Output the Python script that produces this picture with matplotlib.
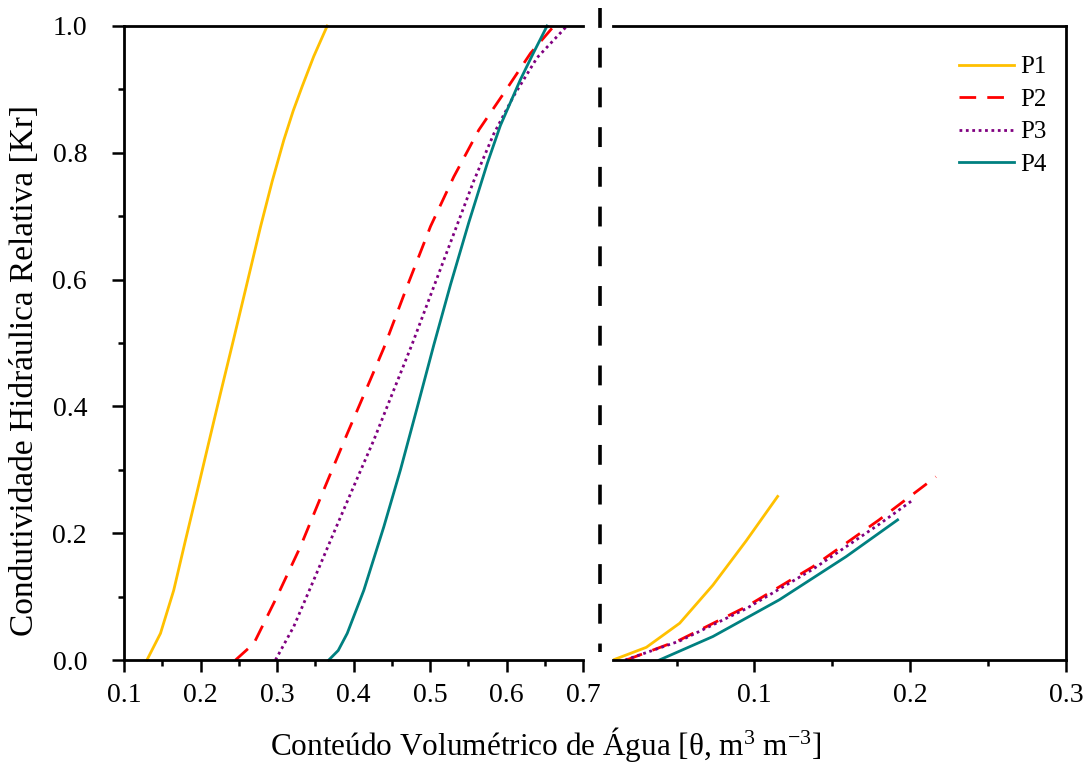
import matplotlib
matplotlib.use("Agg")
import matplotlib.pyplot as plt
from matplotlib.lines import Line2D
from matplotlib.ticker import MultipleLocator

plt.rcParams['font.family'] = ['Liberation Serif', 'DejaVu Serif']
plt.rcParams['mathtext.fontset'] = 'custom'
plt.rcParams['mathtext.rm'] = 'Liberation Serif'
plt.rcParams['mathtext.it'] = 'Liberation Serif:italic'
plt.rcParams['mathtext.bf'] = 'Liberation Serif:bold'

labels = ["P1", "P2", "P3", "P4"]
colors = ["#FFC000", "#FF0000", "#800080", "#008080"]

# Left panel (full range)
p1_x = [0.130, 0.1477, 0.165, 0.180, 0.1957, 0.211, 0.226, 0.2435, 0.260, 0.2784, 0.2937, 0.3089, 0.3211, 0.333, 0.348, 0.3656]
p1_y = [0.0, 0.042, 0.110, 0.187, 0.266, 0.344, 0.420, 0.507, 0.590, 0.683, 0.755, 0.820, 0.866, 0.905, 0.952, 1.0]
p2_x = [0.2458, 0.2697, 0.300, 0.3307, 0.361, 0.3918, 0.422, 0.4396, 0.470, 0.5007, 0.531, 0.5638, 0.5965, 0.6314, 0.662]
p2_y = [0.0, 0.026, 0.100, 0.179, 0.268, 0.357, 0.442, 0.492, 0.589, 0.684, 0.762, 0.836, 0.894, 0.957, 1.0]
p3_x = [0.298, 0.322, 0.348, 0.374, 0.400, 0.4266, 0.4527, 0.4766, 0.505, 0.531, 0.557, 0.5834, 0.6096, 0.640, 0.679]
p3_y = [0.0, 0.053, 0.126, 0.200, 0.273, 0.347, 0.426, 0.498, 0.589, 0.672, 0.755, 0.830, 0.890, 0.950, 1.0]
p4_x = [0.3677, 0.380, 0.3918, 0.4135, 0.4396, 0.4614, 0.483, 0.505, 0.5268, 0.5507, 0.5748, 0.592, 0.618, 0.635, 0.653]
p4_y = [0.0, 0.015, 0.042, 0.110, 0.210, 0.300, 0.397, 0.497, 0.592, 0.690, 0.783, 0.843, 0.915, 0.957, 1.0]

# Right panel (zoomed low range)
r1_x = [0.0092, 0.0306, 0.052, 0.0733, 0.0947, 0.1149]
r1_y = [0.0, 0.020, 0.058, 0.118, 0.188, 0.258]
r2_x = [0.0178, 0.052, 0.0947, 0.1374, 0.180, 0.2165]
r2_y = [0.0, 0.0315, 0.084, 0.147, 0.221, 0.289]
r3_x = [0.017, 0.052, 0.0947, 0.1374, 0.180, 0.2015]
r3_y = [0.0, 0.030, 0.081, 0.143, 0.214, 0.252]
r4_x = [0.039, 0.0733, 0.116, 0.1588, 0.1919]
r4_y = [0.0, 0.037, 0.095, 0.163, 0.221]

styles = [dict(ls='-'), dict(ls=(0, (6, 4))), dict(ls=(0, (1, 1.3))), dict(ls='-')]

W, H = 1083, 764
fig = plt.figure(figsize=(W / 100, H / 100), dpi=100)

axL = fig.add_axes([124 / W, 1 - 660 / H, (583 - 124) / W, (660 - 26) / H])
axR = fig.add_axes([613 / W, 1 - 660 / H, (1066 - 613) / W, (660 - 26) / H])

left_data = [(p1_x, p1_y), (p2_x, p2_y), (p3_x, p3_y), (p4_x, p4_y)]
right_data = [(r1_x, r1_y), (r2_x, r2_y), (r3_x, r3_y), (r4_x, r4_y)]

for (x, y), c, st, lab in zip(left_data, colors, styles, labels):
    axL.plot(x, y, color=c, lw=2.0, label=lab, clip_on=False,
             solid_joinstyle='round', **st)
for (x, y), c, st, lab in zip(right_data, colors, styles, labels):
    axR.plot(x, y, color=c, lw=2.0, label=lab, solid_joinstyle='round', **st)

axL.set_xlim(0.1, 0.7)
axL.set_ylim(0.0, 1.0)
axR.set_xlim(0.0092, 0.3)
axR.set_ylim(0.0, 1.0)

for ax in (axL, axR):
    for s in ax.spines.values():
        s.set_linewidth(2.0)
    ax.tick_params(which='major', direction='out', length=8.6, width=1.8, labelsize=20)
    ax.tick_params(which='minor', direction='out', length=4.3, width=1.8)

axL.spines['right'].set_visible(False)
axL.xaxis.set_major_locator(MultipleLocator(0.1))
axL.xaxis.set_minor_locator(MultipleLocator(0.05))
axL.yaxis.set_major_locator(MultipleLocator(0.2))
axL.yaxis.set_minor_locator(MultipleLocator(0.1))
axL.xaxis.set_major_formatter(plt.FuncFormatter(lambda v, p: f"{v:.1f}"))
axL.yaxis.set_major_formatter(plt.FuncFormatter(lambda v, p: f"{v:.1f}"))
axL.tick_params(axis='y', pad=18)
axL.tick_params(axis='x', pad=8)

axR.spines['left'].set_visible(False)
axR.set_yticks([])
axR.xaxis.set_major_locator(MultipleLocator(0.1))
axR.xaxis.set_minor_locator(MultipleLocator(0.05))
axR.xaxis.set_major_formatter(plt.FuncFormatter(lambda v, p: f"{v:.1f}"))
axR.tick_params(axis='x', pad=8)

leg = axR.legend(loc='upper right', bbox_to_anchor=(0.957, 0.953), frameon=False,
                 borderaxespad=0, borderpad=0,
                 fontsize=18, handlelength=2.2, handletextpad=0.25, labelspacing=0.40)

# separator between panels
fig.add_artist(Line2D([600 / W, 600 / W], [1 - 8 / H, 1 - 652 / H], color='black',
                      lw=2.6, ls=(0, (5.5, 5.5)), transform=fig.transFigure))

fig.text(25 / W, 1 - 370 / H, "Condutividade Hidráulica Relativa [Kr]", rotation=90,
         ha='center', va='center', fontsize=24)
fig.text(546 / W, 1 - 745 / H, "Conteúdo Volumétrico de Água [θ, m$^{3}$ m$^{-3}$]",
         ha='center', va='center', fontsize=22.5)

fig.savefig("out.png", dpi=100)
